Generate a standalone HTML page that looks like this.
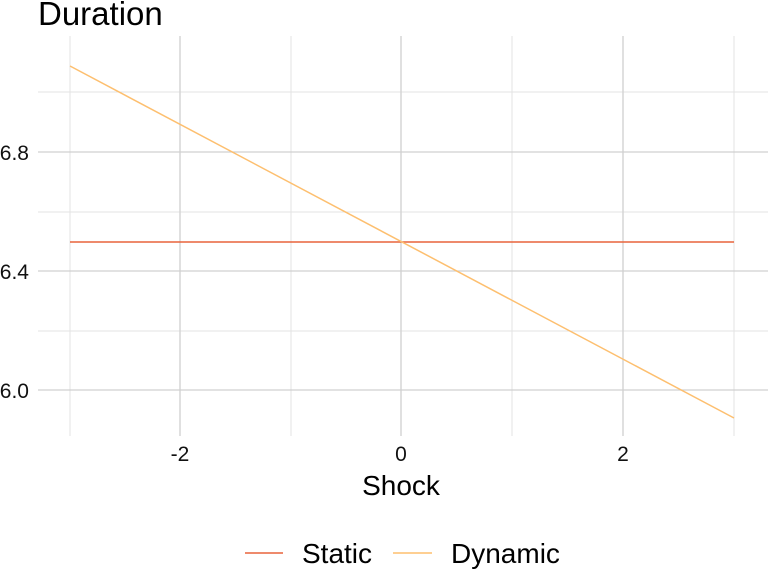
<!DOCTYPE html>
<html><head><style>body{margin:0;background:#fff}svg{display:block}</style></head><body>
<svg width="768" height="576" xmlns="http://www.w3.org/2000/svg" font-family="Liberation Sans, Arial, sans-serif">
<rect width="768" height="576" fill="#fff"/>
<g stroke="#e3e3e3" stroke-width="1">
<line x1="38" x2="768" y1="92" y2="92"/><line x1="38" x2="768" y1="212" y2="212"/><line x1="38" x2="768" y1="331" y2="331"/>
<line x1="70" x2="70" y1="36" y2="436"/><line x1="291" x2="291" y1="36" y2="436"/><line x1="512" x2="512" y1="36" y2="436"/><line x1="734" x2="734" y1="36" y2="436"/>
</g>
<g stroke="#d0d0d0" stroke-width="1.3">
<line x1="38" x2="768" y1="152" y2="152"/><line x1="38" x2="768" y1="271" y2="271"/><line x1="38" x2="768" y1="390" y2="390"/>
<line x1="180" x2="180" y1="36" y2="436"/><line x1="401" x2="401" y1="36" y2="436"/><line x1="623" x2="623" y1="36" y2="436"/>
</g>
<line x1="70" y1="242" x2="734" y2="242" stroke="#E8643C" stroke-width="1.5"/>
<line x1="70" y1="66" x2="734" y2="418" stroke="#FDBF6F" stroke-width="1.5"/>
<g font-size="21" fill="#111" text-anchor="end">
<text x="29" y="160">6.8</text><text x="29" y="279">6.4</text><text x="29" y="398">6.0</text>
</g>
<g font-size="21" fill="#111" text-anchor="middle">
<text x="180" y="461">-2</text><text x="401" y="461">0</text><text x="623" y="461">2</text>
</g>
<text x="401" y="495" font-size="28" text-anchor="middle" fill="#000">Shock</text>
<text x="38" y="25" font-size="33" fill="#000">Duration</text>
<line x1="245" x2="283" y1="553" y2="553" stroke="#E8643C" stroke-width="1.5"/>
<text x="302" y="563" font-size="28" fill="#000">Static</text>
<line x1="393" x2="432" y1="553" y2="553" stroke="#FDBF6F" stroke-width="1.5"/>
<text x="451" y="563" font-size="28" fill="#000">Dynamic</text>
</svg>
</body></html>
